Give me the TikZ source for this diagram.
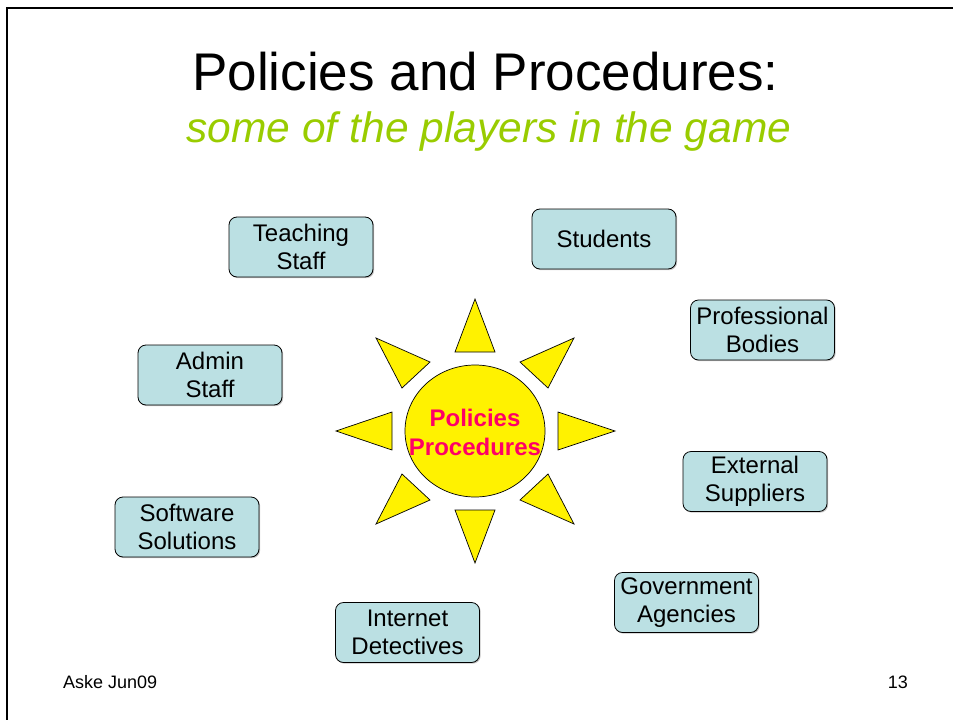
\documentclass[tikz,border=0pt]{standalone}
\usepackage{fontspec}
\setmainfont{Liberation Sans}
\usetikzlibrary{shadows}
\definecolor{boxfill}{HTML}{BBE0E3}
\definecolor{subgreen}{HTML}{99CC00}
\definecolor{sunred}{HTML}{FF0066}

\begin{document}
\begin{tikzpicture}[x = 1pt, y = -1pt,
    player/.style = {draw, line width = 0.8pt, fill = boxfill, rounded corners = 8pt,
      minimum width = 144pt, minimum height = 60pt, inner sep = 0pt, align = center,
      font = \fontsize{24}{28.5}\selectfont,
      drop shadow = {shadow xshift = 1.2pt, shadow yshift = -1.2pt, fill = black!45}},
    ray/.style = {draw, line width = 0.7pt, fill = yellow, line join = miter}]
          \useasboundingbox (0, 0) rectangle (953, 720);
          \draw[line width = 2pt](7, 720) -- (7, 8) -- (953, 8);
          % title
          \node[anchor = base, font = \fontsize{53}{60}\selectfont] (title) at (485.5, 90) {Policies and Procedures:};
          \node[anchor = base, font = \fontsize{42.5}{50}\selectfont\itshape, text = subgreen] (subtitle) at (489, 142) {some of the players in the game};
          % sun
          \draw[ray] (475, 299) -- (495, 352) -- (455, 352) -- cycle;
          \draw[ray] (475, 563) -- (495, 510) -- (455, 510) -- cycle;
          \draw[ray] (336, 431) -- (392, 412) -- (392, 450) -- cycle;
          \draw[ray] (615, 431) -- (558, 412) -- (558, 450) -- cycle;
          \draw[ray] (376, 338) -- (430, 362) -- (402, 388) -- cycle;
          \draw[ray] (574, 338) -- (520, 362) -- (548, 388) -- cycle;
          \draw[ray] (376, 524) -- (430, 500) -- (402, 474) -- cycle;
          \draw[ray] (574, 524) -- (520, 500) -- (548, 474) -- cycle;
          \draw[ray] (475, 431) ellipse [x radius = 70, y radius = 66];
          \node[inner sep = 0pt, align = center, text = sunred,
            font = \fontsize{24}{29}\selectfont\bfseries] (sun) at (475, 432) {Policies\\Procedures};
          % players
          \node[player] (teaching) at (301, 247) {Teaching\\Staff};
          \node[player] (students) at (604, 239) {Students};
          \node[player] (professional) at (762.5, 330) {Professional\\Bodies};
          \node[player] (admin) at (210, 375) {Admin\\Staff};
          \node[player] (external) at (755, 481.5) {External\\Suppliers};
          \node[player] (software) at (187, 527) {Software\\Solutions};
          \node[player] (government) at (686.5, 602.5) {Government\\Agencies};
          \node[player] (internet) at (407.5, 632.5) {Internet\\Detectives};
          % footer
          \node[anchor = base west, inner sep = 0pt, font = \fontsize{18}{20}\selectfont] (author) at (63, 688) {Aske Jun09};
          \node[anchor = base east, inner sep = 0pt, font = \fontsize{18}{20}\selectfont] (page) at (908, 688) {13};
        \end{tikzpicture}
\end{document}
